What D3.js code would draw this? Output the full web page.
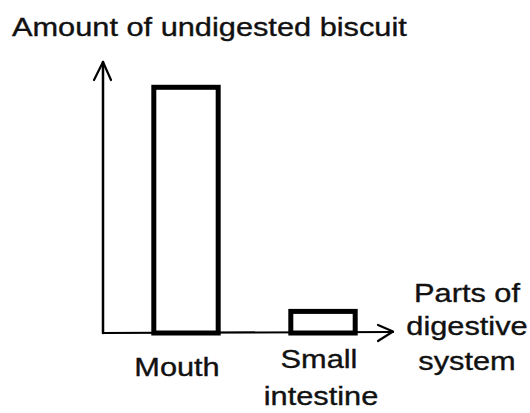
<!DOCTYPE html>
<html>
<head>
<meta charset="utf-8">
<script src="https://cdn.jsdelivr.net/npm/d3@7"></script>
<style>
  html, body { margin: 0; padding: 0; background: #fff; }
  svg { display: block; }
  text { font-family: "Liberation Sans", Arial, sans-serif; fill: #111; stroke: #111; stroke-width: 0.35; }
</style>
</head>
<body>
<svg id="chart" width="530" height="413"></svg>
<script>
// Categories and amounts of undigested biscuit
const categories = ["Mouth", "Small intestine"];
const amounts = [91, 8];
const categoryLines = [["Mouth"], ["Small", "intestine"]];
const yTitle = "Amount of undigested biscuit";
const xTitleLines = ["Parts of", "digestive", "system"];

const svg = d3.select("#chart");
const stretch = 1.23;   // horizontally widened lettering
const fontSize = 25;

const originX = 103, originY = 333;

const x = d3.scaleBand()
  .domain(categories)
  .range([117.5, 391.5])
  .paddingInner(0.53)
  .paddingOuter(0.265);

const y = d3.scaleLinear()
  .domain([0, 100])
  .range([originY, 63]);

function stretchedText(g, str, cx, baseline, anchor) {
  g.append("text")
    .attr("transform", `translate(${cx},${baseline}) scale(${stretch},1)`)
    .attr("text-anchor", anchor || "middle")
    .attr("font-size", fontSize)
    .text(str);
}

// Bars: open rectangles with thick outlines
svg.append("g").selectAll("rect")
  .data(categories.map((c, i) => ({ c, v: amounts[i] })))
  .join("rect")
  .attr("x", d => x(d.c))
  .attr("y", d => y(d.v))
  .attr("width", x.bandwidth())
  .attr("height", d => y(0) - y(d.v))
  .attr("fill", "#fff")
  .attr("stroke", "#000")
  .attr("stroke-width", 5);

// Axes with open arrowheads
const axes = svg.append("g").attr("stroke", "#000").attr("fill", "none")
  .attr("stroke-linecap", "round").attr("stroke-linejoin", "round");
const yTop = y.range()[1] - 1;
const xEnd = 393;
axes.append("line")
  .attr("x1", originX).attr("y1", originY)
  .attr("x2", originX).attr("y2", yTop)
  .attr("stroke-width", 2.5);
axes.append("path")
  .attr("d", `M${originX - 9},${yTop + 18} L${originX},${yTop} L${originX + 8},${yTop + 18}`)
  .attr("stroke-width", 2.2);
axes.append("line")
  .attr("x1", originX).attr("y1", originY)
  .attr("x2", xEnd).attr("y2", originY - 1)
  .attr("stroke-width", 2.2);
axes.append("path")
  .attr("d", `M${xEnd - 15},${originY - 8} L${xEnd},${originY - 1.5} L${xEnd - 15},${originY + 8}`)
  .attr("stroke-width", 2.2);

// Category labels below the axis
const labels = svg.append("g");
const labelOffsets = [{ dx: -9, base: 376 }, { dx: -4, base: 368 }];
categories.forEach((c, i) => {
  const cx = x(c) + x.bandwidth() / 2 + labelOffsets[i].dx;
  categoryLines[i].forEach((line, j) => {
    stretchedText(labels, line, cx + (j > 0 ? 2 : 0), labelOffsets[i].base + j * 37);
  });
});

// Axis titles
stretchedText(svg, yTitle, 12, 36, "start");
const xTitleCx = 467;
const xTitleBase = [302, 335, 370];
xTitleLines.forEach((line, j) => stretchedText(svg, line, xTitleCx, xTitleBase[j]));
</script>
</body>
</html>
